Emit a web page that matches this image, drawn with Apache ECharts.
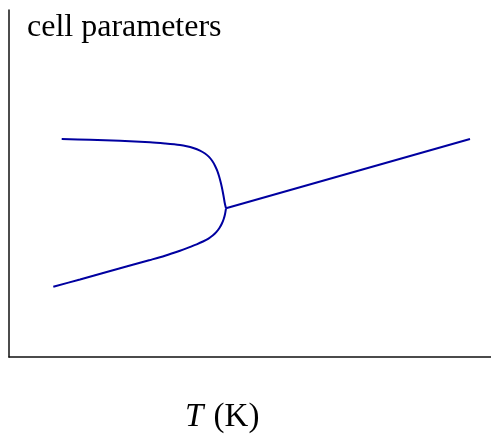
<!DOCTYPE html>
<html>
<head>
<meta charset="utf-8">
<script src="https://cdn.jsdelivr.net/npm/echarts@6/dist/echarts.min.js"></script>
<style>
  html, body { margin: 0; padding: 0; background: #fff; }
  #chart { width: 491px; height: 436px; }
</style>
</head>
<body>
<div id="chart"></div>
<script>
// values (arbitrary units, no ticks shown)
const upperT = [52.7, 81, 111, 141, 156, 171, 177.7, 184.3, 191, 196, 200, 203.3, 206, 208.2, 210, 211.5, 212.8, 213.9, 214.9, 215.8, 217];
const upperA = [218, 217.2, 216.2, 214.7, 213.5, 212, 210.8, 209, 206.4, 203.5, 200.1, 196, 191.3, 186.3, 181, 175.5, 170, 164.5, 159, 153.7, 148.7];

const lowerT = [44.3, 71, 97.7, 121, 141, 156, 171, 179.3, 187.7, 194, 199.5, 204, 207.7, 210.6, 212.9, 214.7, 216, 217];
const lowerA = [70.3, 77.5, 85, 91.5, 97, 101.3, 106.3, 109.4, 112.7, 115.5, 118.4, 121.7, 125.3, 129.2, 133.5, 138, 142.8, 148.7];

const highT = [217, 461];
const highA = [148.7, 218];

const titleText = 'cell parameters';

const zip = (xs, ys) => xs.map((x, i) => [x, ys[i]]);

const chart = echarts.init(document.getElementById('chart'));

const lineStyle = { color: '#0000a0', width: 2 };

const option = {
  animation: false,
  backgroundColor: '#fff',
  title: [
    {
      text: titleText,
      left: 27,
      top: 12,
      padding: 0,
      textStyle: { fontFamily: 'Liberation Serif', fontSize: 32, fontWeight: 'normal', color: '#000' }
    },
    {
      text: '{i|T} (K)',
      left: 185,
      top: 401,
      padding: 0,
      textStyle: {
        fontFamily: 'Liberation Serif', fontSize: 33, fontWeight: 'normal', color: '#000',
        rich: { i: { fontFamily: 'Liberation Serif', fontSize: 33, fontStyle: 'italic', color: '#000', padding: [0, 2, 0, 0] } }
      }
    }
  ],
  grid: { left: 9, right: 0, top: 10, bottom: 79 },
  xAxis: {
    type: 'value', min: 0, max: 482,
    axisLine: { show: true, lineStyle: { color: '#111', width: 1.5 } },
    axisTick: { show: false }, axisLabel: { show: false }, splitLine: { show: false }
  },
  yAxis: {
    type: 'value', min: 0, max: 347,
    axisLine: { show: true, lineStyle: { color: '#111', width: 1.5 } },
    axisTick: { show: false }, axisLabel: { show: false }, splitLine: { show: false }
  },
  series: [
    { type: 'line', data: zip(upperT, upperA), smooth: 0.3, showSymbol: false, lineStyle },
    { type: 'line', data: zip(lowerT, lowerA), smooth: 0.3, showSymbol: false, lineStyle },
    { type: 'line', data: zip(highT, highA), showSymbol: false, lineStyle }
  ]
};

chart.setOption(option);
</script>
</body>
</html>
